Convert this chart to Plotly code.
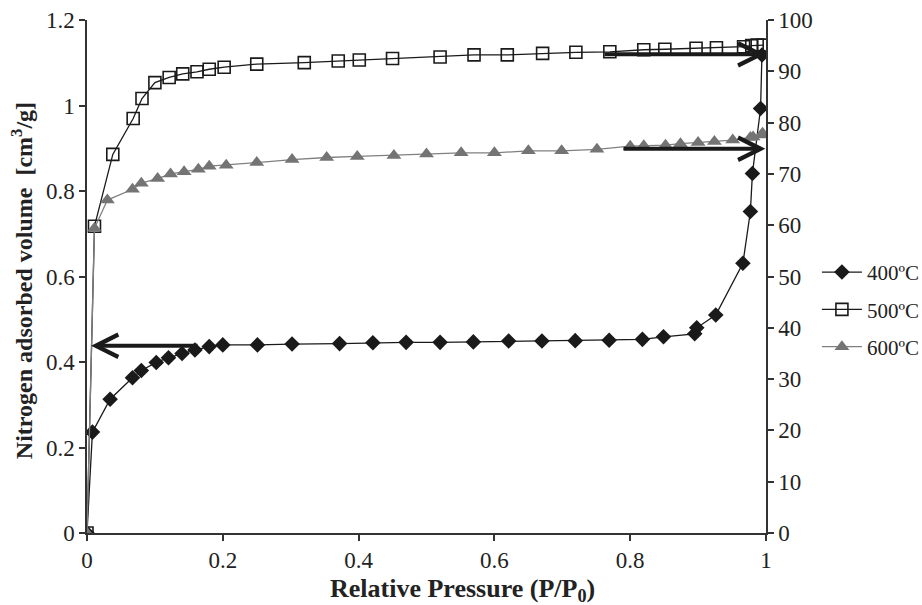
import plotly.graph_objects as go

# ---- data ----
x400 = [0, 0.008, 0.034, 0.067, 0.080, 0.102, 0.120, 0.140, 0.159, 0.180, 0.200, 0.251, 0.302,
        0.372, 0.421, 0.470, 0.520, 0.569, 0.621, 0.670, 0.719, 0.769, 0.818, 0.849, 0.895,
        0.898, 0.926, 0.966, 0.977, 0.980, 0.992, 0.994]
y400 = [0, 0.236, 0.313, 0.363, 0.380, 0.399, 0.410, 0.420, 0.428, 0.436, 0.440, 0.440, 0.442,
        0.443, 0.445, 0.446, 0.446, 0.447, 0.449, 0.449, 0.450, 0.451, 0.453, 0.459, 0.466,
        0.480, 0.510, 0.631, 0.752, 0.841, 0.993, 1.118]

x500 = [0, 0.011, 0.038, 0.068, 0.081, 0.100, 0.121, 0.141, 0.162, 0.180, 0.202, 0.250, 0.320,
        0.370, 0.401, 0.450, 0.520, 0.570, 0.619, 0.671, 0.720, 0.770, 0.820, 0.851, 0.897,
        0.927, 0.967, 0.979, 0.987, 0.996]
y500 = [0, 59.8, 73.8, 80.8, 84.7, 87.8, 88.8, 89.5, 89.9, 90.4, 90.8, 91.4, 91.7,
        92.0, 92.2, 92.5, 92.8, 93.2, 93.2, 93.5, 93.7, 93.8, 94.2, 94.3, 94.5,
        94.6, 94.8, 95.0, 95.1, 95.1]

x600 = [0, 0.011, 0.030, 0.067, 0.080, 0.104, 0.123, 0.143, 0.164, 0.180, 0.205, 0.250, 0.302,
        0.353, 0.398, 0.452, 0.500, 0.551, 0.600, 0.650, 0.699, 0.751, 0.800, 0.820, 0.852,
        0.874, 0.900, 0.924, 0.951, 0.977, 0.981, 0.993, 0.995]
y600 = [0, 59.4, 64.9, 67.0, 68.2, 69.1, 70.0, 70.4, 70.9, 71.5, 71.7, 72.2, 72.8,
        73.2, 73.4, 73.6, 73.9, 74.1, 74.1, 74.5, 74.5, 74.8, 75.4, 75.5, 75.6,
        75.9, 76.1, 76.3, 76.6, 77.1, 77.2, 77.6, 77.9]

series_names = ["400ºC", "500ºC", "600ºC"]
x_ticks = [0, 0.2, 0.4, 0.6, 0.8, 1]
x_ticklabels = ["0", "0.2", "0.4", "0.6", "0.8", "1"]
y_ticks = [0, 0.2, 0.4, 0.6, 0.8, 1.0, 1.2]
y_ticklabels = ["0", "0.2", "0.4", "0.6", "0.8", "1", "1.2"]
y2_ticks = list(range(0, 101, 10))
x_title = "<b>Relative Pressure (P/P<sub>0</sub>)</b>"
y_title = "<b>Nitrogen adsorbed volume  [cm<sup>3</sup>/g]</b>"

# arrows: (tail x, tip x, level, axis)
arrows = [
    (0.165, 0.006, 0.438, "y"),
    (0.760, 0.999, 93.3, "y2"),
    (0.788, 0.999, 74.9, "y2"),
]

FONT = "Liberation Serif"
AX = "#333333"
TXT = "#222222"

fig = go.Figure()
fig.add_trace(go.Scatter(
    x=x400, y=y400, name=series_names[0], mode="lines+markers", legendgroup="a",
    line=dict(color="#1a1a1a", width=1.3),
    marker=dict(symbol="diamond", size=12, color="#1a1a1a"),
    yaxis="y"))
fig.add_trace(go.Scatter(
    x=x500, y=y500, name=series_names[1], mode="lines+markers", legendgroup="b",
    line=dict(color="#1a1a1a", width=1.3),
    marker=dict(symbol="square-open", size=12, color="#1a1a1a", line=dict(width=1.6)),
    yaxis="y2"))
fig.add_trace(go.Scatter(
    x=x600, y=y600, name=series_names[2], mode="lines+markers", legendgroup="c",
    line=dict(color="#808080", width=1.3),
    marker=dict(symbol="triangle-up", size=13, color="#747474"),
    yaxis="y2"))

for tail, tip, lvl, ax in arrows:
    fig.add_annotation(
        x=tip, y=lvl, ax=tail, ay=lvl, xref="x", yref=ax, axref="x", ayref=ax,
        showarrow=True, arrowhead=5, arrowsize=1.1, arrowwidth=4, arrowcolor="#1a1a1a",
        text="", standoff=0)

# axis titles placed as paper annotations to match the reference positions
fig.add_annotation(
    text=x_title, xref="paper", yref="paper", x=0.553, y=-0.111,
    xanchor="center", yanchor="middle", showarrow=False,
    font=dict(family=FONT, size=26, color=TXT))
fig.add_annotation(
    text=y_title, xref="paper", yref="paper", x=-0.0957, y=0.491,
    xanchor="center", yanchor="middle", showarrow=False, textangle=-90,
    font=dict(family=FONT, size=24, color=TXT))

fig.update_layout(
    width=922, height=605,
    margin=dict(l=87, r=156, t=20, b=72, autoexpand=False),
    paper_bgcolor="white", plot_bgcolor="white",
    font=dict(family=FONT, size=23, color=TXT),
    showlegend=True,
    legend=dict(x=1.075, y=0.548, xanchor="left", yanchor="top",
                font=dict(family=FONT, size=21, color=TXT),
                bgcolor="rgba(0,0,0,0)", itemwidth=40,
                traceorder="grouped", tracegroupgap=7),
    xaxis=dict(range=[0, 1], tickvals=x_ticks, ticktext=x_ticklabels,
               showgrid=False, zeroline=False, showline=True, linecolor=AX, linewidth=1.5,
               ticks="outside", ticklen=6, tickcolor=AX, tickwidth=1.5,
               tickfont=dict(family=FONT, size=23, color=TXT)),
    yaxis=dict(range=[0, 1.2], tickvals=y_ticks, ticktext=y_ticklabels,
               showgrid=False, zeroline=False, showline=True, linecolor=AX, linewidth=1.5,
               ticks="outside", ticklen=6, tickcolor=AX, tickwidth=1.5,
               tickfont=dict(family=FONT, size=23, color=TXT)),
    yaxis2=dict(range=[0, 100], tickvals=y2_ticks, overlaying="y", side="right",
                showgrid=False, zeroline=False, showline=True, linecolor=AX, linewidth=1.5,
                ticks="outside", ticklen=6, tickcolor=AX, tickwidth=1.5,
                tickfont=dict(family=FONT, size=23, color=TXT)),
)

fig.write_html("out.html")
